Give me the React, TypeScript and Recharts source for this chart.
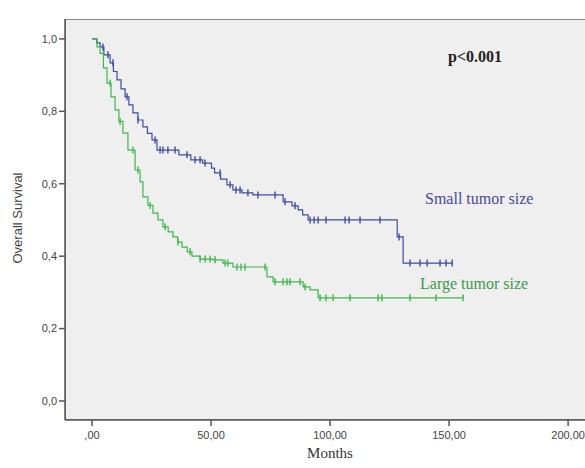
import { ComposedChart, Line, XAxis, YAxis, ReferenceArea } from "recharts"

// Kaplan-Meier step events (months, survival)
const smallTimes = [0, 2.0, 3.4, 5.0, 7.6, 9.0, 10.5, 12.2, 13.9, 15.5, 17.2, 19.3, 21.4, 23.3, 25.2, 27.3, 36.5, 41.5, 46.5, 50.2, 51.5, 54.0, 56.7, 59.2, 63.0, 67.6, 80.3, 84.0, 86.6, 88.5, 90.8, 128.2, 130.7]
const smallSurv = [1.0, 0.989, 0.978, 0.956, 0.934, 0.91, 0.887, 0.862, 0.84, 0.818, 0.796, 0.776, 0.757, 0.739, 0.721, 0.693, 0.68, 0.666, 0.657, 0.643, 0.63, 0.613, 0.597, 0.583, 0.575, 0.569, 0.55, 0.539, 0.528, 0.514, 0.5, 0.453, 0.381]
const smallCensored = [4.6, 6.7, 8.8, 14.7, 19.3, 26.5, 28.6, 29.8, 31.9, 34.9, 39.9, 43.3, 45.4, 47.5, 53.8, 58.0, 60.5, 62.2, 65.5, 69.7, 76.9, 81.1, 85.3, 91.6, 93.3, 95.0, 98.3, 106.3, 108.0, 112.6, 121.0, 129.0, 133.6, 137.8, 140.8, 146.2, 148.7, 151.3]

const largeTimes = [0, 2.1, 3.4, 4.8, 6.3, 8.0, 9.7, 11.3, 13.0, 15.1, 18.1, 20.2, 21.4, 23.5, 25.6, 27.7, 29.8, 32.0, 34.0, 36.0, 37.8, 40.0, 42.0, 45.4, 50.8, 55.0, 59.2, 73.5, 76.1, 88.7, 91.6, 95.0]
const largeSurv = [1.0, 0.978, 0.96, 0.92, 0.878, 0.84, 0.804, 0.772, 0.74, 0.693, 0.638, 0.605, 0.564, 0.54, 0.519, 0.5, 0.481, 0.467, 0.453, 0.439, 0.425, 0.412, 0.4, 0.392, 0.39, 0.381, 0.37, 0.343, 0.329, 0.315, 0.307, 0.285]
const largeCensored = [7.6, 11.8, 17.2, 19.3, 24.4, 30.7, 36.1, 41.2, 45.4, 47.5, 49.6, 51.7, 55.9, 57.1, 60.9, 62.6, 64.3, 72.7, 76.9, 80.3, 81.9, 83.2, 87.4, 89.5, 95.8, 98.3, 101.3, 108.4, 120.2, 121.8, 133.6, 144.5, 155.9]

const xTicks = [0, 50, 100, 150, 200]
const yTicks = [0, 0.2, 0.4, 0.6, 0.8, 1.0]

// the plot runs past the right edge of the picture, as in the original crop
const X_MIN = -11.34
const X_MAX = 213.4
const Y_MIN = -0.0525
const Y_MAX = 1.055

const BLUE = "#3e4ca6"
const GREEN = "#3fb84a"

function buildCurve(times: number[], surv: number[], censored: number[]) {
  const pts = times.map((t, i) => ({ t, s: surv[i], c: false }))
  censored.forEach((ct) => {
    let s = surv[0]
    times.forEach((t, i) => {
      if (t <= ct) s = surv[i]
    })
    pts.push({ t: ct, s, c: true })
  })
  return pts.sort((a, b) => a.t - b.t)
}

const smallData = buildCurve(smallTimes, smallSurv, smallCensored)
const largeData = buildCurve(largeTimes, largeSurv, largeCensored)

const censorDot = (color: string) => (props: any) => {
  const { cx, cy, payload, index } = props
  if (!payload.c) return <g key={index} />
  return (
    <line
      key={index}
      x1={cx}
      x2={cx}
      y1={cy - 3.5}
      y2={cy + 3.5}
      stroke={color}
      strokeWidth={1.4}
    />
  )
}

const tickStyle = { fontFamily: "Liberation Sans, Arial, sans-serif", fontSize: 11, fill: "#444" }

export default function App() {
  return (
    <div
      style={{
        position: "absolute",
        left: 0,
        top: 0,
        width: 585,
        height: 468,
        overflow: "hidden",
        background: "#fff",
      }}
    >
      <ComposedChart
        width={600}
        height={468}
        margin={{ top: 19, right: 0, left: 0, bottom: 0 }}
      >
        <ReferenceArea
          x1={X_MIN}
          x2={X_MAX}
          y1={Y_MIN}
          y2={Y_MAX}
          fill="#efefef"
          fillOpacity={1}
          stroke="#888"
          strokeWidth={2}
          ifOverflow="hidden"
        />
        <XAxis
          type="number"
          dataKey="t"
          domain={[X_MIN, X_MAX]}
          ticks={xTicks}
          interval={0}
          allowDataOverflow
          height={48}
          tickFormatter={(v: number) => `${v === 0 ? "" : v},00`}
          tick={tickStyle}
          tickSize={6}
          tickMargin={5}
          stroke="#555"
          strokeWidth={1.5}
        />
        <YAxis
          type="number"
          domain={[Y_MIN, Y_MAX]}
          ticks={yTicks}
          interval={0}
          allowDataOverflow
          width={65}
          tickFormatter={(v: number) => v.toFixed(1).replace(".", ",")}
          tick={tickStyle}
          tickSize={6}
          stroke="#555"
          strokeWidth={1.5}
        />
        <Line
          data={smallData}
          dataKey="s"
          type="stepAfter"
          stroke={BLUE}
          strokeWidth={1.2}
          dot={censorDot(BLUE)}
          activeDot={false}
          isAnimationActive={false}
        />
        <Line
          data={largeData}
          dataKey="s"
          type="stepAfter"
          stroke={GREEN}
          strokeWidth={1.2}
          dot={censorDot(GREEN)}
          activeDot={false}
          isAnimationActive={false}
        />
      </ComposedChart>
      <svg
        width={585}
        height={468}
        style={{ position: "absolute", left: 0, top: 0, pointerEvents: "none" }}
      >
        <text x={448} y={62} fontFamily="Liberation Serif, Times New Roman, serif" fontWeight="bold" fontSize={16} fill="#222">
          p&lt;0.001
        </text>
        <text x={425} y={204} fontFamily="Liberation Serif, Times New Roman, serif" fontSize={16} fill="#4a4a9a">
          Small tumor size
        </text>
        <text x={420} y={289} fontFamily="Liberation Serif, Times New Roman, serif" fontSize={16} fill="#3a9a4a">
          Large tumor size
        </text>
        <text x={330} y={458} textAnchor="middle" fontFamily="Liberation Serif, Times New Roman, serif" fontSize={15} fill="#333">
          Months
        </text>
        <text
          x={0}
          y={0}
          transform="translate(22 218) rotate(-90)"
          textAnchor="middle"
          fontFamily="Liberation Sans, Arial, sans-serif"
          fontSize={13}
          fill="#444"
        >
          Overall Survival
        </text>
      </svg>
    </div>
  )
}
